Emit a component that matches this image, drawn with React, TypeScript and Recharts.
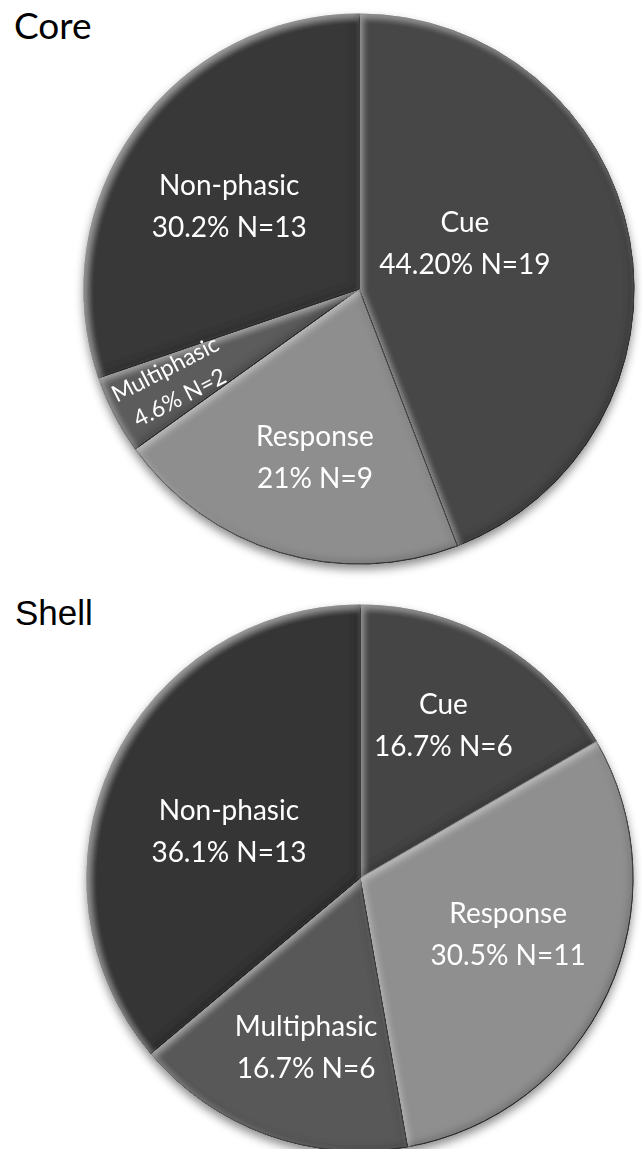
import { PieChart, Pie, Cell } from "recharts";

const categories = ["Cue", "Response", "Multiphasic", "Non-phasic"];

const coreCounts = [19, 9, 2, 13];
const corePercentLabels = ["44.20%", "21%", "4.6%", "30.2%"];

const shellCounts = [6, 11, 6, 13];
const shellPercentLabels = ["16.7%", "30.5%", "16.7%", "36.1%"];

const coreColors = ["#474747", "#8e8e8e", "#5c5c5c", "#373737"];
const shellColors = ["#454545", "#8f8f8f", "#585858", "#363636"];

// label placement: fraction of radius, angle nudge (deg), font size, rotate along the radius
interface LabelSpot {
  r: number;
  nudge: number;
  size: number;
  gap: number;
  radial?: boolean;
}

const coreSpots: LabelSpot[] = [
  { r: 0.42, nudge: 13, size: 28, gap: 42 },
  { r: 0.63, nudge: 2, size: 28, gap: 42 },
  { r: 0.76, nudge: -0.5, size: 23, gap: 32, radial: true },
  { r: 0.56, nudge: 3, size: 28, gap: 42 },
];

const shellSpots: LabelSpot[] = [
  { r: 0.64, nudge: 1.5, size: 28, gap: 42 },
  { r: 0.58, nudge: 4.3, size: 28, gap: 42 },
  { r: 0.65, nudge: 2.3, size: 28, gap: 42 },
  { r: 0.51, nudge: 5.3, size: 28, gap: 42 },
];

const RAD = Math.PI / 180;
const LABEL_FONT = "Lato, 'Open Sans', sans-serif";

function BevelDefs({ id }: { id: string }) {
  return (
    <defs>
      <filter id={id} x="-5%" y="-5%" width="110%" height="110%">
        <feGaussianBlur in="SourceAlpha" stdDeviation="3.5" result="blur" />
        <feOffset in="blur" dx="3" dy="3" result="shiftDown" />
        <feOffset in="blur" dx="-3" dy="-3" result="shiftUp" />
        <feComposite in="SourceAlpha" in2="shiftDown" operator="arithmetic" k2="1" k3="-1" result="hiMask" />
        <feComposite in="SourceAlpha" in2="shiftUp" operator="arithmetic" k2="1" k3="-1" result="loMask" />
        <feFlood floodColor="#ffffff" floodOpacity="0.35" />
        <feComposite in2="hiMask" operator="in" result="hi" />
        <feFlood floodColor="#000000" floodOpacity="0.4" />
        <feComposite in2="loMask" operator="in" result="lo" />
        <feMerge>
          <feMergeNode in="SourceGraphic" />
          <feMergeNode in="hi" />
          <feMergeNode in="lo" />
        </feMerge>
      </filter>
    </defs>
  );
}

function makeLabel(spots: LabelSpot[], percents: string[]) {
  return (props: any) => {
    const { cx, cy, midAngle, outerRadius, index, value } = props;
    const spot = spots[index];
    const a = (midAngle + spot.nudge) * RAD;
    const x = cx + outerRadius * spot.r * Math.cos(a);
    const y = cy - outerRadius * spot.r * Math.sin(a);
    const cap = spot.size * 0.36;
    const rotate = spot.radial ? -180 - midAngle : 0;
    return (
      <text
        x={x}
        y={y}
        fill="#ffffff"
        textAnchor="middle"
        fontFamily={LABEL_FONT}
        fontSize={spot.size}
        transform={rotate ? `rotate(${rotate}, ${x}, ${y})` : undefined}
      >
        <tspan x={x} y={y - spot.gap / 2 + cap}>
          {categories[index]}
        </tspan>
        <tspan x={x} y={y + spot.gap / 2 + cap}>
          {`${percents[index]} N=${value}`}
        </tspan>
      </text>
    );
  };
}

interface PanelProps {
  id: string;
  counts: number[];
  colors: string[];
  spots: LabelSpot[];
  percents: string[];
  height: number;
  cx: number;
  cy: number;
  radius: number;
}

function PiePanel({ id, counts, colors, spots, percents, height, cx, cy, radius }: PanelProps) {
  const data = categories.map((name, i) => ({ name, value: counts[i] }));
  return (
    <div style={{ filter: "drop-shadow(0px 5px 5px rgba(0,0,0,0.45))" }}>
      <PieChart width={642} height={height} margin={{ top: 0, right: 0, bottom: 0, left: 0 }}>
        <BevelDefs id={id} />
        <Pie
          data={data}
          dataKey="value"
          nameKey="name"
          cx={cx}
          cy={cy}
          outerRadius={radius}
          startAngle={90}
          endAngle={-270}
          stroke="#1c1c1c"
          strokeWidth={1}
          labelLine={false}
          label={makeLabel(spots, percents)}
          isAnimationActive={false}
        >
          {data.map((d, i) => (
            <Cell key={d.name} fill={colors[i]} filter={`url(#${id})`} />
          ))}
        </Pie>
      </PieChart>
    </div>
  );
}

export default function App() {
  return (
    <div
      style={{
        position: "absolute",
        left: 0,
        top: 0,
        width: 642,
        height: 1149,
        overflow: "hidden",
        background: "#ffffff",
      }}
    >
      <div style={{ position: "relative", height: 574 }}>
        <PiePanel
          id="core-bevel"
          counts={coreCounts}
          colors={coreColors}
          spots={coreSpots}
          percents={corePercentLabels}
          height={574}
          cx={359}
          cy={289}
          radius={275}
        />
        <div
          style={{
            position: "absolute",
            left: 14,
            top: 6,
            fontFamily: LABEL_FONT,
            fontSize: 37,
            lineHeight: "37px",
            color: "#000",
          }}
        >
          Core
        </div>
      </div>
      <div style={{ position: "relative", height: 575 }}>
        <PiePanel
          id="shell-bevel"
          counts={shellCounts}
          colors={shellColors}
          spots={shellSpots}
          percents={shellPercentLabels}
          height={575}
          cx={360}
          cy={304}
          radius={273}
        />
        <div
          style={{
            position: "absolute",
            left: 15,
            top: 21,
            fontFamily: "'Liberation Sans', Arial, sans-serif",
            fontSize: 35,
            lineHeight: "35px",
            color: "#000",
          }}
        >
          Shell
        </div>
      </div>
    </div>
  );
}
